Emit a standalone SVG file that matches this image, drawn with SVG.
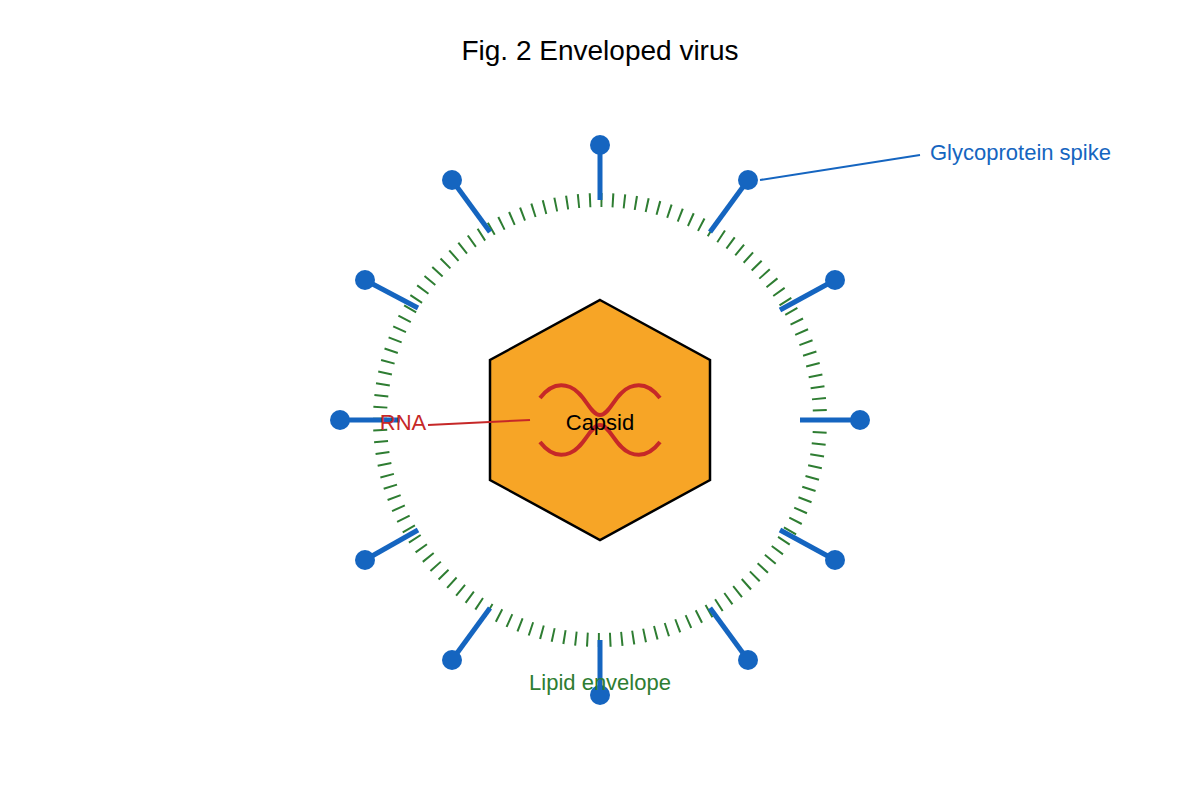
<svg xmlns="http://www.w3.org/2000/svg" width="1200" height="800" viewBox="0 0 1200 800">
<style>
text{font-family:"Liberation Sans",Arial,sans-serif;}
.sp line{stroke:#1565C0;stroke-width:5;}
.sp circle{fill:#1565C0;}
</style>
<rect width="1200" height="800" fill="#fff"/>
<text x="600" y="60" font-size="28" text-anchor="middle">Fig. 2 Enveloped virus</text>
<g id="envelope">
<circle cx="600" cy="420" r="220" fill="none" stroke="#2E7D32" stroke-width="14" stroke-dasharray="2 9.52"/>
</g>
<g id="spikes" class="sp">
<line x1="600" y1="200" x2="600" y2="145"/><circle cx="600" cy="145" r="10"/>
<line x1="710" y1="232" x2="748" y2="180"/><circle cx="748" cy="180" r="10"/>
<line x1="780" y1="310" x2="835" y2="280"/><circle cx="835" cy="280" r="10"/>
<line x1="800" y1="420" x2="860" y2="420"/><circle cx="860" cy="420" r="10"/>
<line x1="780" y1="530" x2="835" y2="560"/><circle cx="835" cy="560" r="10"/>
<line x1="710" y1="608" x2="748" y2="660"/><circle cx="748" cy="660" r="10"/>
<line x1="600" y1="640" x2="600" y2="695"/><circle cx="600" cy="695" r="10"/>
<line x1="490" y1="608" x2="452" y2="660"/><circle cx="452" cy="660" r="10"/>
<line x1="418" y1="530" x2="365" y2="560"/><circle cx="365" cy="560" r="10"/>
<line x1="400" y1="420" x2="340" y2="420"/><circle cx="340" cy="420" r="10"/>
<line x1="418" y1="308" x2="365" y2="280"/><circle cx="365" cy="280" r="10"/>
<line x1="490" y1="232" x2="452" y2="180"/><circle cx="452" cy="180" r="10"/>
</g>
<g id="capsid">
<polygon points="600,300 710,360 710,480 600,540 490,480 490,360" fill="#F7A526" stroke="#000" stroke-width="2.5"/>
</g>
<g id="rna" fill="none" stroke="#C62828" stroke-width="4">
<path d="M540,398 C550,385 560,383 570,387 C585,393 590,415 600,415 C610,415 615,393 630,387 C640,383 650,385 660,398"/>
<path d="M540,442 C550,455 560,457 570,453 C585,447 590,425 600,425 C610,425 615,447 630,453 C640,457 650,455 660,442"/>
</g>
<text x="600" y="430" font-size="22" text-anchor="middle">Capsid</text>
<g id="connectors">
<line x1="428" y1="425" x2="530" y2="420" stroke="#C62828" stroke-width="2"/>
<line x1="760" y1="180" x2="920" y2="155" stroke="#1565C0" stroke-width="2"/>
</g>
<text x="403" y="430" font-size="22" fill="#C62828" text-anchor="middle">RNA</text>
<text x="930" y="160" font-size="22" fill="#1565C0">Glycoprotein spike</text>
<text x="600" y="690" font-size="22" fill="#2E7D32" text-anchor="middle">Lipid envelope</text>
</svg>
